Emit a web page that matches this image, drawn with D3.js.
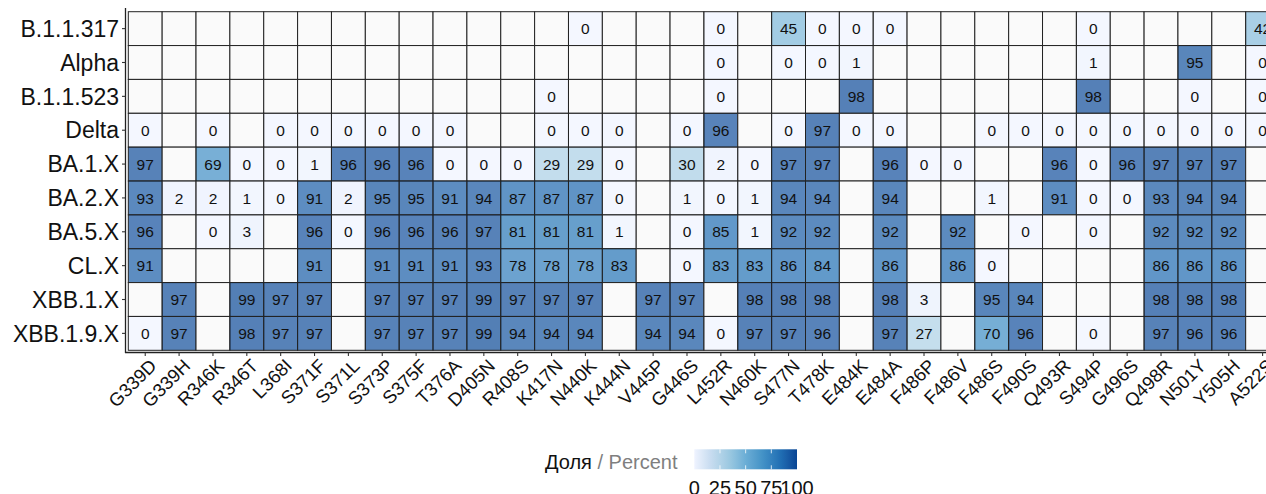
<!DOCTYPE html>
<html><head><meta charset="utf-8">
<script src="https://cdn.jsdelivr.net/npm/d3@7"></script>
<style>html,body{margin:0;padding:0;background:#fff;overflow:hidden}svg{display:block}</style>
</head><body>
<script>
const mutations = ["G339D","G339H","R346K","R346T","L368I","S371F","S371L","S373P","S375F","T376A","D405N","R408S","K417N","N440K","K444N","V445P","G446S","L452R","N460K","S477N","T478K","E484K","E484A","F486P","F486V","F486S","F490S","Q493R","S494P","G496S","Q498R","N501Y","Y505H","A522S"];
const lineages = ["B.1.1.317","Alpha","B.1.1.523","Delta","BA.1.X","BA.2.X","BA.5.X","CL.X","XBB.1.X","XBB.1.9.X"];
const _ = null;
const valB11317 = [_,_,_,_,_,_,_,_,_,_,_,_,_,0,_,_,_,0,_,45,0,0,0,_,_,_,_,_,0,_,_,_,_,42];
const valAlpha  = [_,_,_,_,_,_,_,_,_,_,_,_,_,_,_,_,_,0,_,0,0,1,_,_,_,_,_,_,1,_,_,95,_,0];
const valB11523 = [_,_,_,_,_,_,_,_,_,_,_,_,0,_,_,_,_,0,_,_,_,98,_,_,_,_,_,_,98,_,_,0,_,0];
const valDelta  = [0,_,0,_,0,0,0,0,0,0,_,_,0,0,0,_,0,96,_,0,97,0,0,_,_,0,0,0,0,0,0,0,0,0];
const valBA1    = [97,_,69,0,0,1,96,96,96,0,0,0,29,29,0,_,30,2,0,97,97,_,96,0,0,_,_,96,0,96,97,97,97,_];
const valBA2    = [93,2,2,1,0,91,2,95,95,91,94,87,87,87,0,_,1,0,1,94,94,_,94,_,_,1,_,91,0,0,93,94,94,_];
const valBA5    = [96,_,0,3,_,96,0,96,96,96,97,81,81,81,1,_,0,85,1,92,92,_,92,_,92,_,0,_,0,_,92,92,92,_];
const valCL     = [91,_,_,_,_,91,_,91,91,91,93,78,78,78,83,_,0,83,83,86,84,_,86,_,86,0,_,_,_,_,86,86,86,_];
const valXBB1   = [_,97,_,99,97,97,_,97,97,97,99,97,97,97,_,97,97,_,98,98,98,_,98,3,_,95,94,_,_,_,98,98,98,_];
const valXBB19  = [0,97,_,98,97,97,_,97,97,97,99,94,94,94,_,94,94,0,97,97,96,_,97,27,_,70,96,_,0,_,97,96,96,_];
const rowValues = [valB11317,valAlpha,valB11523,valDelta,valBA1,valBA2,valBA5,valCL,valXBB1,valXBB19];
const legendTicks = [0,25,50,75,100];
const bluesPalette = ["#EFF3FF","#C6DBEF","#9ECAE1","#6BAED6","#4292C6","#2171B5","#084594"];

const W = 1266, H = 494;
const FONT = "'Liberation Sans', Arial, Helvetica, sans-serif";
const svg = d3.select("body").append("svg").attr("width", W).attr("height", H)
  .style("font-family", FONT);

const cellW = 33.86, cellH = 33.86;
const x0 = 128.3, y0 = 11.7;
const x = d3.scaleBand().domain(mutations).range([x0, x0 + cellW * mutations.length]).padding(0);
const y = d3.scaleBand().domain(lineages).range([y0, y0 + cellH * lineages.length]).padding(0);

const color = d3.scaleLinear()
  .domain(bluesPalette.map((c, i) => 100 * i / (bluesPalette.length - 1)))
  .range(bluesPalette).interpolate(d3.interpolateLab);

const cells = [];
lineages.forEach((l, i) => mutations.forEach((m, j) => cells.push({l, m, v: rowValues[i][j]})));

const g = svg.append("g");
g.selectAll("rect.cell").data(cells).join("rect")
  .attr("x", d => x(d.m)).attr("y", d => y(d.l))
  .attr("width", x.bandwidth()).attr("height", y.bandwidth())
  .attr("fill", d => d.v == null ? "#fafafa" : color(d.v))
  .attr("fill-opacity", d => d.v == null ? 1 : 0.7)
  .attr("stroke", "#222").attr("stroke-width", 1);
g.selectAll("text.val").data(cells.filter(d => d.v != null)).join("text")
  .attr("x", d => x(d.m) + x.bandwidth() / 2)
  .attr("y", d => y(d.l) + y.bandwidth() / 2)
  .attr("text-anchor", "middle").attr("dy", "0.36em")
  .attr("font-size", 15.5).attr("fill", "#111")
  .text(d => d.v);

// axes
const yAxisX = 125.5, xAxisY = 352.5;
svg.append("line").attr("x1", yAxisX).attr("x2", yAxisX).attr("y1", 8).attr("y2", xAxisY + 0.5)
  .attr("stroke", "#222").attr("stroke-width", 1.3);
svg.append("line").attr("x1", yAxisX - 0.5).attr("x2", W + 20).attr("y1", xAxisY).attr("y2", xAxisY)
  .attr("stroke", "#222").attr("stroke-width", 1.3);

const yt = svg.append("g");
yt.selectAll("line").data(lineages).join("line")
  .attr("x1", yAxisX - 3.5).attr("x2", yAxisX)
  .attr("y1", d => y(d) + y.bandwidth() / 2).attr("y2", d => y(d) + y.bandwidth() / 2)
  .attr("stroke", "#333").attr("stroke-width", 1.1);
yt.selectAll("text").data(lineages).join("text")
  .attr("x", 119).attr("y", d => y(d) + y.bandwidth() / 2)
  .attr("dy", "0.36em").attr("text-anchor", "end")
  .attr("font-size", 23).attr("fill", "#111").text(d => d);

const xt = svg.append("g");
xt.selectAll("line").data(mutations).join("line")
  .attr("x1", d => x(d) + x.bandwidth() / 2).attr("x2", d => x(d) + x.bandwidth() / 2)
  .attr("y1", xAxisY).attr("y2", xAxisY + 3.5)
  .attr("stroke", "#333").attr("stroke-width", 1.1);
xt.selectAll("text").data(mutations).join("text")
  .attr("transform", d => `translate(${x(d) + x.bandwidth() / 2 + 3},${xAxisY + 5}) rotate(-45)`)
  .attr("text-anchor", "end").attr("dy", "0.72em")
  .attr("font-size", 18.5).attr("fill", "#111").text(d => d);

// legend
const lg = svg.append("g");
const title = lg.append("text").attr("x", 545).attr("y", 469).attr("font-size", 20);
title.append("tspan").attr("fill", "#111").text("Доля");
title.append("tspan").attr("fill", "#7f7f7f").text(" / Percent");

const lx = d3.scaleLinear().domain([0, 100]).range([694.3, 797]);
const defs = svg.append("defs");
const grad = defs.append("linearGradient").attr("id", "lgrad");
d3.range(0, 101, 5).forEach(v => grad.append("stop").attr("offset", v + "%").attr("stop-color", color(v)));
lg.append("rect").attr("x", lx(0)).attr("y", 449.3).attr("width", lx(100) - lx(0)).attr("height", 20)
  .attr("fill", "url(#lgrad)");
legendTicks.forEach(t => {
  if (t > 0 && t < 100) {
    lg.append("line").attr("x1", lx(t)).attr("x2", lx(t)).attr("y1", 449.3).attr("y2", 453.3).attr("stroke", "#fff").attr("stroke-width", 0.8);
    lg.append("line").attr("x1", lx(t)).attr("x2", lx(t)).attr("y1", 465.3).attr("y2", 469.3).attr("stroke", "#fff").attr("stroke-width", 0.8);
  }
});
lg.selectAll("text.tk").data(legendTicks).join("text")
  .attr("x", d => lx(d)).attr("y", 495).attr("text-anchor", "middle")
  .attr("font-size", 20).attr("fill", "#111").text(d => d);
</script>
</body></html>
